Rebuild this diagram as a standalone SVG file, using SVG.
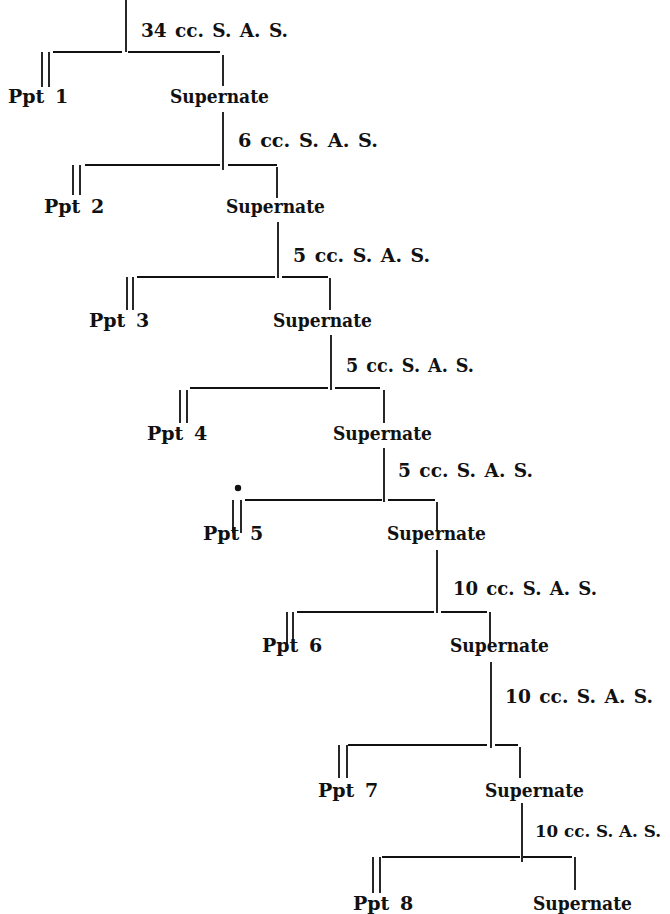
<svg xmlns="http://www.w3.org/2000/svg" width="670" height="914" viewBox="0 0 670 914">
<style>
  text { font-family: "DejaVu Serif", "Liberation Serif", serif; font-weight: bold; font-size: 19px; fill: #111; }
  .lab { word-spacing: 2px; }
  .tight { font-size: 17.5px; }
  .ppt { word-spacing: 4px; }
  .ln { stroke: #111; stroke-width: 1.8; fill: none; stroke-linecap: butt; }
</style>
<rect width="670" height="914" fill="#fff"/>
<g id="connectors" class="ln">
  <path class="ln" d="M126 0V52 M53 52H122 M128 52H220 M223 55V86 M42 52V87 M49 52V87"/>
  <path class="ln" d="M223 112V170 M85 165H220 M228 165H277 M277 167V198 M73 165V195 M80 165V195"/>
  <path class="ln" d="M278 222V278 M137 277H275 M282 277H328 M330 278V310 M127 277V310 M133 277V310"/>
  <path class="ln" d="M331 335V390 M190 388H328 M335 388H380 M384 390V423 M180 390V423 M187 390V423"/>
  <path class="ln" d="M384 448V502 M245 500H382 M388 500H435 M437 502V530 M233 500V533 M241 500V533"/>
  <path class="ln" d="M437 550V613 M297 612H434 M441 612H487 M490 612V645 M287 612V645 M293 612V645"/>
  <path class="ln" d="M491 662V748 M348 745H487 M495 745H518 M520 747V778 M339 745V778 M347 745V778"/>
  <path class="ln" d="M522 803V862 M382 857H520 M523 857H572 M575 857V890 M373 857V893 M380 857V893"/>
</g>
<g id="mark"><circle cx="238" cy="488" r="3.2" fill="#111"/></g>
<g id="labels">
  <text class="lab" x="141" y="37" textLength="147" lengthAdjust="spacingAndGlyphs">34 cc. S. A. S.</text>
  <text class="lab" x="238" y="147" textLength="140" lengthAdjust="spacingAndGlyphs">6 cc. S. A. S.</text>
  <text class="lab" x="293" y="262" textLength="137" lengthAdjust="spacingAndGlyphs">5 cc. S. A. S.</text>
  <text class="lab" x="346" y="372" textLength="128" lengthAdjust="spacingAndGlyphs">5 cc. S. A. S.</text>
  <text class="lab" x="398" y="477" textLength="135" lengthAdjust="spacingAndGlyphs">5 cc. S. A. S.</text>
  <text class="lab" x="453" y="595" textLength="144" lengthAdjust="spacingAndGlyphs">10 cc. S. A. S.</text>
  <text class="lab" x="505" y="703" textLength="148" lengthAdjust="spacingAndGlyphs">10 cc. S. A. S.</text>
  <text class="tight" x="535" y="837" textLength="126" lengthAdjust="spacingAndGlyphs">10 cc. S. A. S.</text>
</g>
<g id="ppt1"><text class="ppt" x="8" y="103">Ppt 1</text></g>
<g id="sup1"><text x="170" y="103" textLength="99" lengthAdjust="spacingAndGlyphs">Supernate</text></g>
<g id="ppt2"><text class="ppt" x="44" y="213">Ppt 2</text></g>
<g id="sup2"><text x="226" y="213" textLength="99" lengthAdjust="spacingAndGlyphs">Supernate</text></g>
<g id="ppt3"><text class="ppt" x="89" y="327">Ppt 3</text></g>
<g id="sup3"><text x="273" y="327" textLength="99" lengthAdjust="spacingAndGlyphs">Supernate</text></g>
<g id="ppt4"><text class="ppt" x="147" y="440">Ppt 4</text></g>
<g id="sup4"><text x="333" y="440" textLength="99" lengthAdjust="spacingAndGlyphs">Supernate</text></g>
<g id="ppt5"><text class="ppt" x="203" y="540">Ppt 5</text></g>
<g id="sup5"><text x="387" y="540" textLength="99" lengthAdjust="spacingAndGlyphs">Supernate</text></g>
<g id="ppt6"><text class="ppt" x="262" y="652">Ppt 6</text></g>
<g id="sup6"><text x="450" y="652" textLength="99" lengthAdjust="spacingAndGlyphs">Supernate</text></g>
<g id="ppt7"><text class="ppt" x="318" y="797">Ppt 7</text></g>
<g id="sup7"><text x="485" y="797" textLength="99" lengthAdjust="spacingAndGlyphs">Supernate</text></g>
<g id="ppt8"><text class="ppt" x="353" y="910">Ppt 8</text></g>
<g id="sup8"><text x="533" y="910" textLength="99" lengthAdjust="spacingAndGlyphs">Supernate</text></g>
</svg>
